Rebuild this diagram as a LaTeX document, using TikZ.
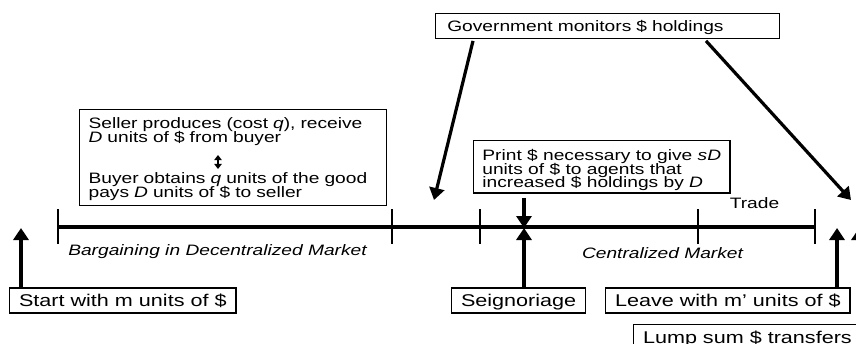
\documentclass[tikz,border=0pt]{standalone}
\usepackage{fontspec}
\setmainfont{Liberation Sans}[FakeStretch=1.27]
\usetikzlibrary{arrows.meta,calc}

\newcommand\lblsize{\fontsize{8.5}{9}\selectfont}
\newcommand\txtsize{\fontsize{7.55}{7.1}\selectfont\lineskiplimit=-5pt\relax}
\newcommand\prtsize{\fontsize{7.55}{6.7}\selectfont\lineskiplimit=-5pt\relax}

\begin{document}
\begin{tikzpicture}[x=0.5pt, y=-0.5pt,
    box/.style={draw, line width=0.6pt, inner xsep=4.7pt, inner ysep=0pt,
        minimum height=12.5pt, text height=6.2pt, text depth=0pt, font=\lblsize},
    txtbox/.style={draw, line width=0.6pt, align=left, inner ysep=0pt, font=\txtsize},
    arr/.style={line width=1.8pt, -{Triangle[length=6pt,width=7.5pt]}},
    tickmark/.style={line width=0.7pt}]

    \useasboundingbox (0,0) rectangle (856,343);
    \clip (0,0) rectangle (856,343);

    % -------------------------------
    % time line
    % -------------------------------
    \draw[line width=2pt] (58,227) -- (815,227);
    \foreach \x in {58,392,480,698,815} {
        \draw[tickmark] (\x,209) -- (\x,244);
    }

    % where the arrows end
    \coordinate (p0) at (21,228);
    \coordinate (p1) at (524,228);
    \coordinate (p2) at (837,228);
    \coordinate (p3) at (859,228);
    \coordinate (g1) at (434,200);
    \coordinate (g2) at (851,200);

    \node[font=\txtsize\itshape] (dm) at (217.5,252) {Bargaining in Decentralized Market};
    \node[font=\txtsize\itshape] (cm) at (662.5,253) {Centralized Market};
    \node[font=\txtsize] (trade) at (754.5,203) {Trade};

    % -------------------------------
    % boxes
    % -------------------------------
    \node[txtbox, anchor=north west, text width=144.5pt, inner xsep=4.5pt] (seller) at (79,109)
        {\rule{0pt}{9.35pt}Seller produces (cost \textit{q}), receive\\
         \textit{D} units of \$ from buyer\\[13.2pt]
         Buyer obtains \textit{q} units of the good\\
         pays \textit{D} units of \$ to seller\rule[-4.15pt]{0pt}{4.15pt}};
    \draw[line width=0.8pt, {Triangle[length=2.6pt,width=3.8pt]}-{Triangle[length=2.6pt,width=3.8pt]}]
        (218,155) -- (218,169);

    \node[txtbox, anchor=north west, inner xsep=4.4pt, font=\prtsize] (print) at (473,140)
        {\rule{0pt}{10pt}Print \$ necessary to give \textit{sD}\\
         units of \$ to agents that\\
         increased \$ holdings by \textit{D}\rule[-2.8pt]{0pt}{2.8pt}};

    \node[box, font=\txtsize, text height=5.6pt, anchor=west, text width=160.3pt,
        inner xsep=5.85pt, align=left] (gov) at (435,25.8) {Government monitors \$ holdings};

    \node[box, anchor=west] (start) at (9,300.5) {Start with m units of \$};
    \node[box, anchor=west] (seign) at (451,300.5) {Seignoriage};
    \node[box, anchor=west] (leave) at (605,300.5) {Leave with m’ units of \$};
    \node[box, anchor=north west] (lump) at (633,324) {Lump sum \$ transfers};

    % -------------------------------
    % arrows
    % -------------------------------
    \draw[arr] (start.north -| p0) -- (p0);
    \draw[arr] (seign.north -| p1) -- (p1);
    \draw[arr, shorten <=2pt] (print.south -| p1) -- (p1);
    \draw[arr] (leave.north -| p2) -- (p2);
    \draw[arr] (lump.north -| p3) -- (p3);

    \draw[arr, line width=1.6pt] ($(gov.south west)+(38,2)$) -- (g1);
    \draw[arr, line width=1.6pt] ($(gov.south west)+(271,2)$) -- (g2);

\end{tikzpicture}
\end{document}
